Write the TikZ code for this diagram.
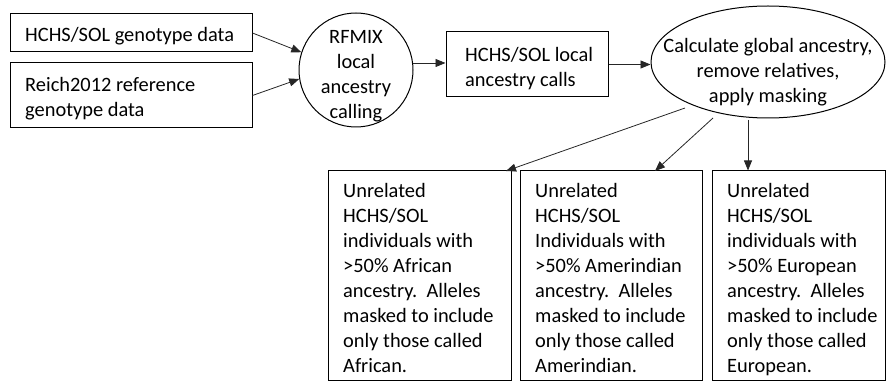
\documentclass[tikz,border=0pt]{standalone}
\usepackage{fontspec}
\setmainfont{Carlito}
\usetikzlibrary{arrows.meta,shapes.geometric,calc}
\begin{document}
\begin{tikzpicture}[x=1pt,y=-1pt,
  box/.style={draw, line width=1pt, rectangle, inner sep=0pt},
  txt/.style={inner sep=0pt, align=left, anchor=north west, font=\fontsize{20.4}{25}\selectfont},
  ctxt/.style={inner sep=0pt, align=center, font=\fontsize{20.4}{25}\selectfont},
  conn/.style={line width=0.8pt, draw=black!85, -{Triangle[length=10pt,width=8pt]}}]
\useasboundingbox (0,0) rectangle (886,382);
% boxes
\node[box, minimum width=242pt, minimum height=38pt] (b1) at (131,33) {};
\node[box, minimum width=242pt, minimum height=65pt] (b2) at (131,95.5) {};
\node[draw, line width=1pt, circle, inner sep=0pt, minimum size=114pt] (rfmix) at (356,70) {};
\node[box, minimum width=162pt, minimum height=65pt] (b3) at (527,64.5) {};
\node[draw, line width=1pt, ellipse, inner sep=0pt, minimum width=234pt, minimum height=112pt] (ell) at (768,62) {};
\node[box, minimum width=183pt, minimum height=209pt] (bA) at (419.5,275.5) {};
\node[box, minimum width=182pt, minimum height=209pt] (bB) at (611,275.5) {};
\node[box, minimum width=173pt, minimum height=209pt] (bC) at (798.5,275.5) {};
% texts
\node[txt] (t1) at (25,27.5) {HCHS/SOL genotype data};
\node[txt] (t2) at (25,77.5) {Reich2012 reference\\genotype data};
\node[ctxt] (trf) at (356,76) {RFMIX\\local\\ancestry\\calling};
\node[txt] (t3) at (465,47.5) {HCHS/SOL local\\ancestry calls};
\node[ctxt] (tell) at (768,72.5) {Calculate global ancestry,\\remove relatives,\\apply masking};
\node[txt] (tA) at (343,183.5) {Unrelated\\HCHS/SOL\\individuals with\\>50\% African\\ancestry.\ \ Alleles\\masked to include\\only those called\\African.};
\node[txt] (tB) at (535,183.5) {Unrelated\\HCHS/SOL\\Individuals with\\>50\% Amerindian\\ancestry.\ \ Alleles\\masked to include\\only those called\\Amerindian.};
\node[txt] (tC) at (727,183.5) {Unrelated\\HCHS/SOL\\individuals with\\>50\% European\\ancestry.\ \ Alleles\\masked to include\\only those called\\European.};
% connector ends
\coordinate (sA) at (685,108);
\coordinate (sB) at (713,118);
\coordinate (sC) at (748,120);
\coordinate (eA) at (506,171);
\coordinate (eB) at (655,171);
% connectors
\draw[conn] (b1.east) -- (rfmix.162);
\draw[conn] (b2.east) -- (rfmix.189);
\draw[conn] (rfmix.7) -- (rfmix.7 -| b3.west);
\draw[conn] (b3.east) -- (b3.east -| ell.west);
\draw[conn] (sA) -- (eA);
\draw[conn] (sB) -- (eB);
\draw[conn] (sC) -- (sC |- bC.north);
\end{tikzpicture}
\end{document}
